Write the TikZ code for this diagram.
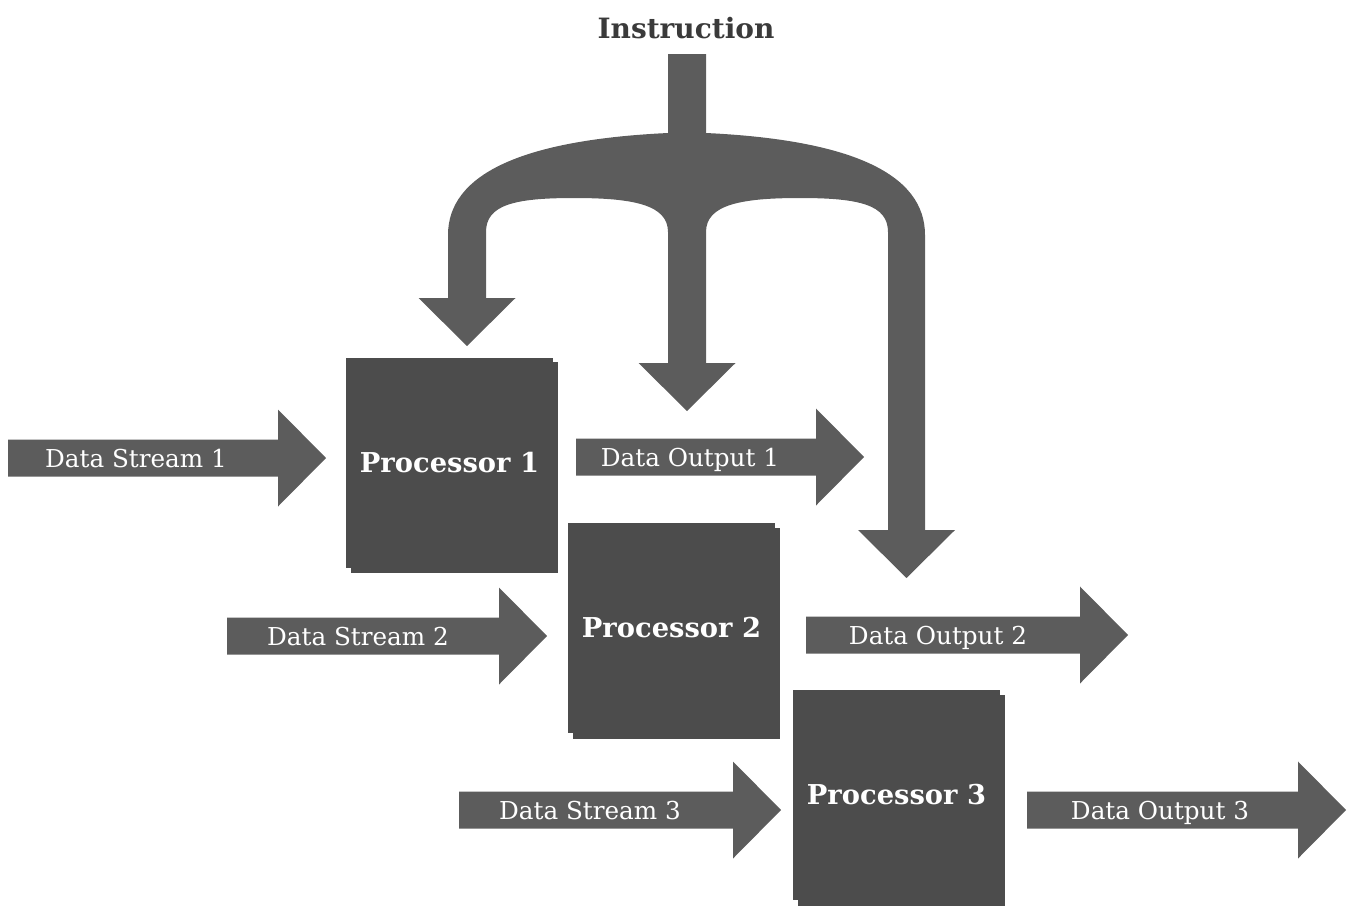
\documentclass[tikz,border=0pt]{standalone}
\usepackage{fontspec}
\setmainfont{DejaVu Serif}
\definecolor{arrowgray}{RGB}{92,92,92}
\definecolor{boxgray}{RGB}{76,76,76}
\definecolor{titlegray}{RGB}{58,58,58}
% block arrow: #1 body start x, #2 body end x, #3 centre y (pixel units)
\newcommand\blockarr[3]{\fill[arrowgray] (#1,#3-18.5) -- (#2,#3-18.5) -- (#2,#3-48.5) -- (#2+48,#3) -- (#2,#3+48.5) -- (#2,#3+18.5) -- (#1,#3+18.5) -- cycle;}
% processor shadow: offset copy behind the box, #1 #2 = box centre
\newcommand\procshadow[2]{\fill[boxgray] (#1-98.5,#2-100.5) rectangle (#1+108.5,#2+110.5);}
\begin{document}
\begin{tikzpicture}[x=0.75pt,y=-0.75pt,
  datalabel/.style={text=white,font=\fontsize{18.5}{20}\selectfont,anchor=base,inner sep=0pt},
  proc/.style={fill=boxgray,minimum width=155.25pt,minimum height=157.5pt,inner sep=0pt,
    text=white,font=\fontsize{20.5}{22}\selectfont\bfseries},
  title/.style={text=titlegray,font=\fontsize{21}{23}\selectfont\bfseries,anchor=base,inner sep=0pt}]
\useasboundingbox (0,0) rectangle (1349,914);

% instruction title
\node[title] (instr) at (686,38) {Instruction};

% branching instruction arrow
\fill[arrowgray] (448,298) -- (448,235)
  .. controls (448,175) and (520,140) .. (668,133)
  -- (668,54) -- (706,54) -- (706,133)
  .. controls (854,140) and (925,175) .. (925,235)
  -- (925,530) -- (955,530) -- (906.5,578) -- (858,530) -- (888,530)
  -- (888,232)
  .. controls (888,205) and (860,198) .. (800,198)
  .. controls (740,198) and (706,205) .. (706,232)
  -- (706,363) -- (735.5,363) -- (687,411) -- (638.5,363) -- (668,363)
  -- (668,232)
  .. controls (668,205) and (634,198) .. (574,198)
  .. controls (514,198) and (486,205) .. (486,232)
  -- (486,298) -- (515.5,298) -- (467,346) -- (418.5,298) -- cycle;

% data arrows
\blockarr{8}{278}{458}
\blockarr{576}{816}{457}
\blockarr{227}{499}{636}
\blockarr{806}{1080}{635}
\blockarr{459}{733}{810}
\blockarr{1027}{1298}{810}

\node[datalabel] (ds1) at (136,467) {Data Stream 1};
\node[datalabel] (do1) at (690,466) {Data Output 1};
\node[datalabel] (ds2) at (358,645) {Data Stream 2};
\node[datalabel] (do2) at (938,644) {Data Output 2};
\node[datalabel] (ds3) at (590,819) {Data Stream 3};
\node[datalabel] (do3) at (1160,819) {Data Output 3};

% processors
\procshadow{449.5}{462.5}
\node[proc] (p1) at (449.5,462.5) {Processor 1};
\procshadow{671.5}{628}
\node[proc] (p2) at (671.5,628) {Processor 2};
\procshadow{896.5}{795}
\node[proc] (p3) at (896.5,795) {Processor 3};
\end{tikzpicture}
\end{document}
